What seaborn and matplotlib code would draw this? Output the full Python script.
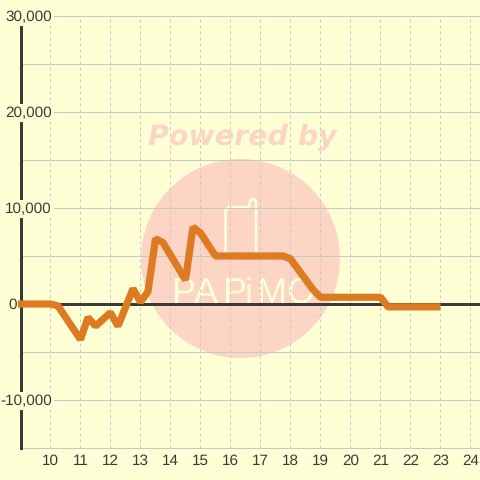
import matplotlib
matplotlib.use("Agg")
import matplotlib.pyplot as plt
from matplotlib.patches import Ellipse
from matplotlib.transforms import IdentityTransform
import seaborn as sns

# values
hours = [8.9, 10, 10.25, 11, 11.25, 11.5, 12, 12.25, 12.75, 13, 13.25, 13.5, 13.75,
         14.5, 14.75, 15, 15.5, 17.75, 18, 18.75, 19, 21, 21.25, 23]
power = [0, 0, -200, -3700, -1400, -2300, -900, -2300, 1600, 200, 1300, 6800, 6400,
         2500, 8000, 7400, 5000, 5000, 4700, 1500, 700, 700, -300, -300]
x_ticks = list(range(10, 25))
y_grid = list(range(-15000, 30001, 5000))
y_labels = [30000, 20000, 10000, 0, -10000]
logo_letters = ["P", "A", "P", "i", "M", "O"]

BG = "#ffffd5"
INK = "#3a3a3a"
GRID = "#c8c8c8"
WATERMARK = "#fcd5c5"

sns.set_theme(style="white")
plt.rcParams["font.family"] = ["Liberation Sans", "DejaVu Sans"]
plt.rcParams["text.hinting"] = "no_hinting"

fig = plt.figure(figsize=(4.8, 4.8), dpi=100, facecolor=BG)
ax = fig.add_axes([20.5 / 480, 32 / 480, 459.5 / 480, 432 / 480], facecolor=BG)
ax.patch.set_zorder(-1)

# watermark, sits under the grid (pixel coords, y from the bottom)
px = IdentityTransform()
ax.add_patch(Ellipse((240.5, 221.5), 199, 199, transform=px, fc=WATERMARK, ec="none", zorder=0))
phone_x = [225.5, 225.5, 229, 249, 250, 253, 256, 256]
phone_y = [224, 270, 273, 273, 279, 281.5, 279, 224]
ax.plot(phone_x, phone_y, transform=px, color=BG, lw=1.9, zorder=0.5, clip_on=False, solid_joinstyle="round")
fig.text(242 / 480, 335 / 480, "Powered by", family="DejaVu Sans", weight="bold", style="italic",
         size=20.5, color=WATERMARK, ha="center", va="baseline", zorder=0)
for letter, cx in zip(logo_letters, [183, 206, 234, 249, 271, 300]):
    ax.annotate(letter, xy=(cx, 177), xycoords="figure pixels", ha="center", va="baseline",
                size=26, color=BG, zorder=0.8, annotation_clip=False)

ax.set_xlim(9, 24.3167)
ax.set_ylim(-15000, 30000)
ax.set_xticks(x_ticks)
ax.set_yticks(y_grid)
ax.set_yticklabels([])
ax.tick_params(axis="both", length=0)
ax.tick_params(axis="x", labelsize=11, labelcolor=INK, pad=4.5)
ax.grid(False)
for v in y_grid:
    ax.axhline(v, color=GRID, lw=0.72, zorder=1, clip_on=False)
for h in x_ticks:
    ax.axvline(h, color=GRID, lw=0.72, ls=(0, (3, 3)), zorder=1)

for side in ["top", "right", "bottom"]:
    ax.spines[side].set_visible(False)
ax.spines["left"].set_color(INK)
ax.spines["left"].set_linewidth(2.16)
ax.spines["left"].set_zorder(2)
ax.axhline(0, color=INK, lw=2.16, zorder=2)

sns.lineplot(x=hours, y=power, ax=ax, color="#dd7a22", lw=5.2, errorbar=None, sort=False, zorder=3,
             solid_joinstyle="bevel", solid_capstyle="butt", clip_on=False)
ax.set_xlabel("")
ax.set_ylabel("")

for v in y_labels:
    right = 16.5 if v == 0 else 52
    ax.annotate(f"{v:,}", xy=(right, v), xycoords=("figure pixels", "data"), xytext=(0, -0.7),
                textcoords="offset points", ha="right", va="center",
                size=11, color=INK, zorder=4, annotation_clip=False,
                bbox=dict(fc=BG, ec="none", pad=1.2))

fig.savefig("out.png", dpi=100, facecolor=BG)
